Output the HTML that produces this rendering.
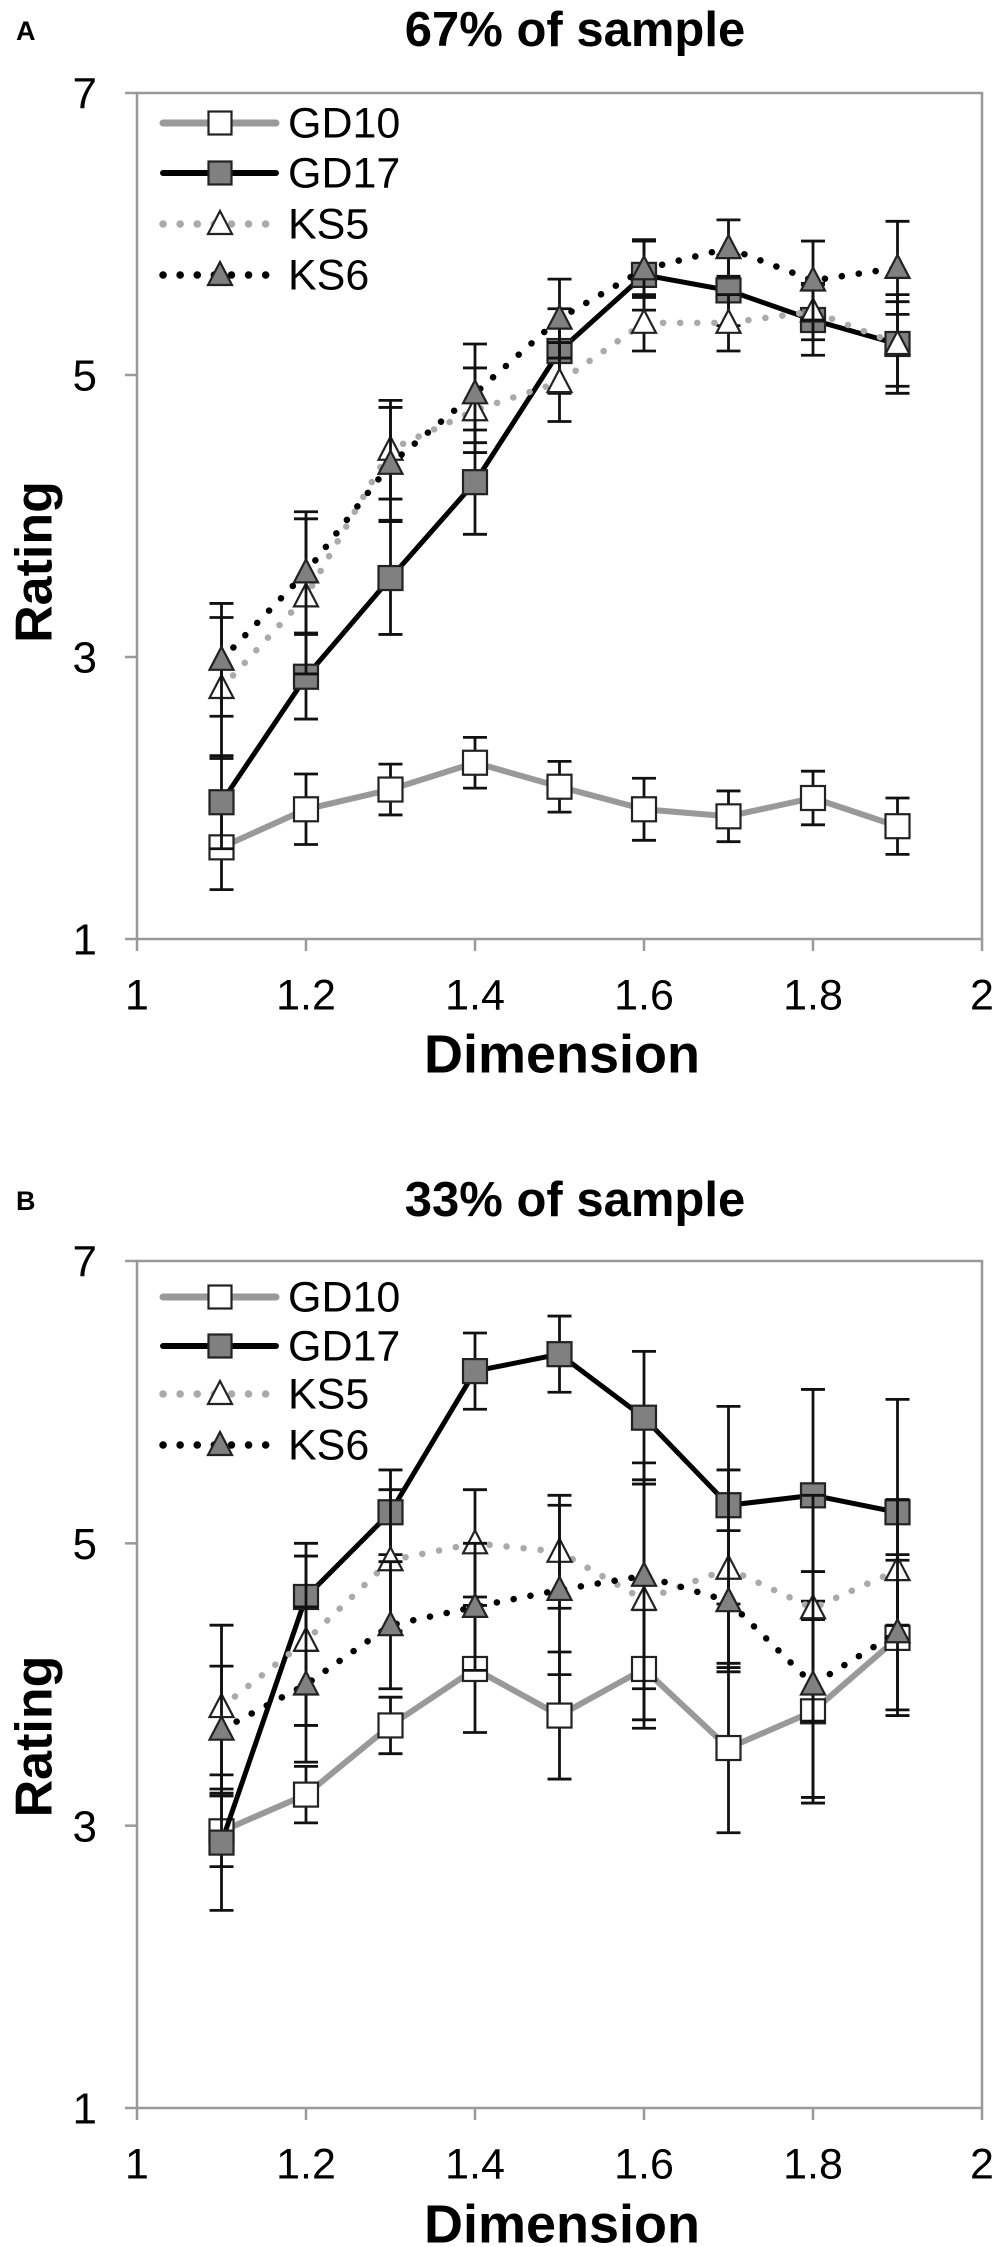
<!DOCTYPE html>
<html><head><meta charset="utf-8"><style>
html,body{margin:0;padding:0;background:#fff;overflow:hidden;}
svg{display:block;font-family:"Liberation Sans",Arial,sans-serif;}
</style></head><body>
<svg id="fig" width="1004" height="2247" viewBox="0 0 1004 2247"></svg>
<script>
const xCats=[1.1,1.2,1.3,1.4,1.5,1.6,1.7,1.8,1.9];
const xTicks=[1,1.2,1.4,1.6,1.8,2];
const yTicks=[1,3,5,7];
const seriesNames=["GD10","GD17","KS5","KS6"];
const aGD10=[1.65,1.92,2.06,2.25,2.08,1.92,1.87,2.0,1.8];
const aGD10err=[0.3,0.25,0.18,0.18,0.18,0.22,0.18,0.19,0.2];
const aGD17=[1.97,2.86,3.56,4.24,5.17,5.71,5.6,5.39,5.22];
const aGD17err=[0.33,0.3,0.4,0.37,0.3,0.25,0.25,0.25,0.35];
const aKS5=[2.78,3.43,4.47,4.75,4.95,5.37,5.37,5.45,5.22];
const aKS5err=[0.5,0.55,0.35,0.3,0.28,0.2,0.2,0.2,0.3];
const aKS6=[2.98,3.6,4.37,4.87,5.4,5.75,5.9,5.67,5.76];
const aKS6err=[0.4,0.43,0.4,0.35,0.28,0.2,0.2,0.28,0.33];
const bGD10=[2.96,3.22,3.71,4.11,3.78,4.11,3.55,3.81,4.33];
const bGD10err=[0.25,0.2,0.2,0.45,0.45,0.42,0.6,0.65,0.55];
const bGD17=[2.88,4.62,5.22,6.22,6.34,5.89,5.27,5.34,5.22];
const bGD17err=[0.48,0.38,0.3,0.27,0.27,0.47,0.7,0.75,0.8];
const bKS5=[3.84,4.31,4.88,5.0,4.94,4.6,4.82,4.54,4.81];
const bKS5err=[0.58,0.6,0.5,0.38,0.4,0.85,0.7,0.8,0.5];
const bKS6=[3.68,4.0,4.42,4.55,4.67,4.77,4.59,4.0,4.37];
const bKS6err=[0.45,0.55,0.45,0.45,0.6,0.8,0.5,0.8,0.55];

const NS="http://www.w3.org/2000/svg";
const svg=document.getElementById('fig');
function mk(tag,attrs,parent,text){const e=document.createElementNS(NS,tag);for(const k in attrs)e.setAttribute(k,attrs[k]);if(text!==undefined)e.textContent=text;(parent||svg).appendChild(e);return e;}

const styles={
 GD10:{stroke:"#999",w:6,dash:null,marker:"sq",fill:"#fff"},
 GD17:{stroke:"#000",w:5,dash:null,marker:"sq",fill:"#808080"},
 KS5:{stroke:"#aaa",w:6.5,dash:"0.1 17",marker:"tri",fill:"#fff"},
 KS6:{stroke:"#000",w:6.5,dash:"0.1 17",marker:"tri",fill:"#808080"}
};
function marker(g,type,cx,cy,fill){
 if(type==="sq")return mk('rect',{x:cx-12,y:cy-12,width:24,height:24,fill:fill,stroke:"#222","stroke-width":2.2},g);
 return mk('polygon',{points:`${cx},${cy-13} ${cx-12},${cy+10} ${cx+12},${cy+10}`,fill:fill,stroke:"#222","stroke-width":2.2},g);
}

function panel(p){
 const L=137,R=982,T=p.top,B=p.bottom;
 const xs=v=>L+(v-1)*(R-L);
 const ys=v=>B-(v-1)/6*(B-T);
 const g=mk('g',{});
 
 
 const lbl=mk('text',{x:16,y:p.titleY,"font-size":27,"font-weight":"bold","dominant-baseline":"middle"},g,p.letter);
 
 const tt=mk('text',{x:575,y:p.titleY,"font-size":49,"font-weight":"bold","text-anchor":"middle","dominant-baseline":"middle"},g,p.title);
 
 const frame=mk('rect',{x:L,y:T,width:R-L,height:B-T,fill:"none",stroke:"#999","stroke-width":2.5},g);
 
 yTicks.forEach(v=>{
  mk('line',{x1:L-12,x2:L,y1:ys(v),y2:ys(v),stroke:"#999","stroke-width":2.5},g);
  const t=mk('text',{x:97,y:ys(v)+4,"font-size":44,"text-anchor":"end","dominant-baseline":"middle"},g,String(v));
  
 });
 xTicks.forEach(v=>{
  mk('line',{x1:xs(v),x2:xs(v),y1:B,y2:B+12,stroke:"#999","stroke-width":2.5},g);
  const t=mk('text',{x:xs(v),y:p.xLabY,"font-size":43,"text-anchor":"middle","dominant-baseline":"middle"},g,String(v));
  
 });
 const xt=mk('text',{x:562,y:p.xTitleY,"font-size":54,"font-weight":"bold","text-anchor":"middle","dominant-baseline":"middle"},g,"Dimension");
 
 const ycy=(T+B)/2+p.yTitleOff;
 const yt=mk('text',{x:0,y:0,"font-size":52,"font-weight":"bold","text-anchor":"middle","dominant-baseline":"middle",transform:`translate(38,${ycy}) rotate(-90)`},g,"Rating");
 
 seriesNames.forEach((n,si)=>{
  const st=styles[n];const vals=p.data[si],errs=p.err[si];
  const sg=mk('g',{},g);
  
  vals.forEach((v,i)=>{
   const x=xs(xCats[i]);
   mk('line',{x1:x,x2:x,y1:ys(v-errs[i]),y2:ys(v+errs[i]),stroke:"#111","stroke-width":2.8},sg);
   mk('line',{x1:x-12,x2:x+12,y1:ys(v-errs[i]),y2:ys(v-errs[i]),stroke:"#111","stroke-width":2.8},sg);
   mk('line',{x1:x-12,x2:x+12,y1:ys(v+errs[i]),y2:ys(v+errs[i]),stroke:"#111","stroke-width":2.8},sg);
  });
  const pts=vals.map((v,i)=>xs(xCats[i])+','+ys(v)).join(' ');
  const a={points:pts,fill:"none",stroke:st.stroke,"stroke-width":st.w,"stroke-linecap":"round"};
  if(st.dash)a["stroke-dasharray"]=st.dash;
  const pl=mk('polyline',a,sg);
  
  vals.forEach((v,i)=>{
   const m=marker(sg,st.marker,xs(xCats[i]),ys(v),st.fill);
   
   
  });
 });
 const lg=mk('g',{},g);
 
 seriesNames.forEach((n,i)=>{
  const st=styles[n];const y=p.legY[i];
  const eg=mk('g',{},lg);
  
  const a={x1:163,x2:276,y1:y,y2:y,stroke:st.stroke,"stroke-width":st.w+1,"stroke-linecap":"round"};
  if(st.dash)a["stroke-dasharray"]=st.dash;
  mk('line',a,eg);
  if(st.marker==="sq")mk('rect',{x:220-11.5,y:y-11.5,width:23,height:23,fill:st.fill,stroke:"#222","stroke-width":2.2},eg);
  else mk('polygon',{points:`220,${y-13} 208,${y+10} 232,${y+10}`,fill:st.fill,stroke:"#222","stroke-width":2.2},eg);
  mk('text',{x:288,y:y+3,"font-size":43,"dominant-baseline":"middle"},eg,n);
 });
}
panel({id:'a',letter:'A',title:'67% of sample',top:93,bottom:939,titleY:33,xLabY:998,xTitleY:1058,yTitleOff:46,legY:[123,173,224,275],
 data:[aGD10,aGD17,aKS5,aKS6],err:[aGD10err,aGD17err,aKS5err,aKS6err]});
panel({id:'b',letter:'B',title:'33% of sample',top:1261,bottom:2108,titleY:1203,xLabY:2167,xTitleY:2228,yTitleOff:52,legY:[1297,1346,1394,1445],
 data:[bGD10,bGD17,bKS5,bKS6],err:[bGD10err,bGD17err,bKS5err,bKS6err]});
</script>
</body></html>
